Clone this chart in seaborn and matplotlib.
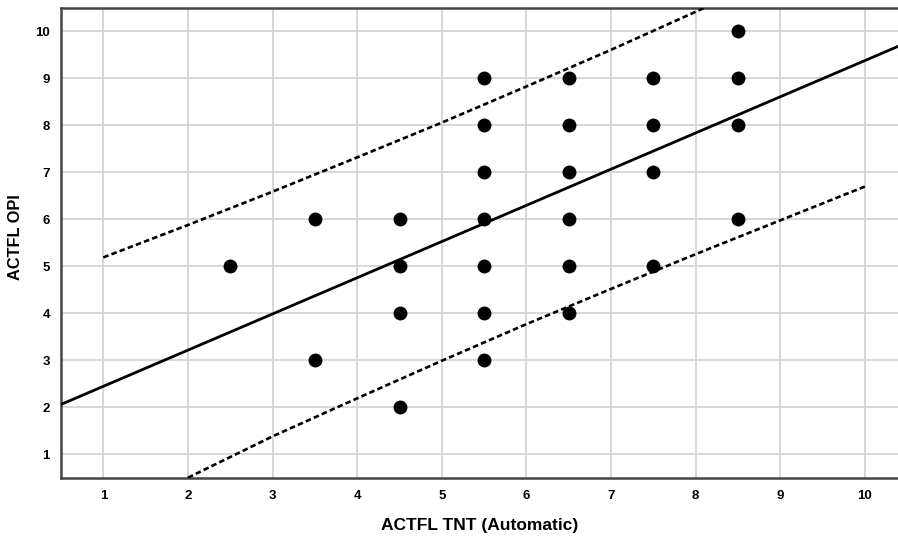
import matplotlib
matplotlib.use("Agg")
import matplotlib.pyplot as plt
import seaborn as sns
import pandas as pd

# ---- data ----
tnt = [2.5, 3.5, 3.5, 4.5, 4.5, 4.5, 4.5,
       5.5, 5.5, 5.5, 5.5, 5.5, 5.5, 5.5,
       6.5, 6.5, 6.5, 6.5, 6.5, 6.5,
       7.5, 7.5, 7.5, 7.5,
       8.5, 8.5, 8.5, 8.5]
opi = [5, 6, 3, 6, 5, 4, 2,
       9, 8, 7, 6, 5, 4, 3,
       9, 8, 7, 6, 5, 4,
       9, 8, 7, 5,
       10, 9, 8, 6]

# fitted regression line
fit_x = [0.5, 10.4]
fit_y = [2.06, 9.69]

# upper / lower prediction-interval lines
upper_x = [1, 2, 3, 4, 5, 6, 7, 8, 8.1]
upper_y = [5.19, 5.88, 6.59, 7.32, 8.06, 8.83, 9.61, 10.42, 10.50]
lower_x = [2, 3, 4, 5, 6, 7, 8, 9, 10]
lower_y = [0.50, 1.38, 2.19, 2.99, 3.77, 4.52, 5.26, 5.98, 6.70]

xticks = [1, 2, 3, 4, 5, 6, 7, 8, 9, 10]
yticks = [1, 2, 3, 4, 5, 6, 7, 8, 9, 10]

sns.set_theme(style="white")
plt.rcParams['font.family'] = ['Liberation Sans', 'DejaVu Sans']
plt.rcParams['text.color'] = 'black'
plt.rcParams['axes.labelcolor'] = 'black'

fig = plt.figure(figsize=(8.98, 5.39), dpi=100)
ax = fig.add_axes([61 / 898, 1 - 477.7 / 539, 1 - 61 / 898, (477.7 - 8) / 539])

ax.set_xlim(0.5, 10.39)
ax.set_ylim(0.5, 10.5)
ax.set_xticks(xticks)
ax.set_yticks(yticks)
ax.grid(True, color="#d4d4d4", linewidth=1.3, zorder=0)
ax.set_axisbelow(True)

pts = pd.DataFrame({"tnt": tnt, "opi": opi})
sns.scatterplot(data=pts, x="tnt", y="opi", ax=ax, color="black", s=100,
                edgecolor="black", linewidth=0, zorder=3)

sns.lineplot(x=fit_x, y=fit_y, ax=ax, color="black", linewidth=2.0,
             sort=True, zorder=4)
for xs, ys in ((upper_x, upper_y), (lower_x, lower_y)):
    l = sns.lineplot(x=xs, y=ys, ax=ax, color="black", linewidth=1.9,
                     sort=True, zorder=4)
    l.lines[-1].set_dashes((2.1, 1.2))

for side in ("left", "bottom", "top"):
    ax.spines[side].set_visible(True)
    ax.spines[side].set_color("#444444")
    ax.spines[side].set_linewidth(1.8)
ax.spines["right"].set_visible(False)

ax.tick_params(axis="both", length=0, labelsize=9.5, colors="black")
ax.tick_params(axis="x", pad=9)
ax.tick_params(axis="y", pad=8)
for lab in ax.get_xticklabels() + ax.get_yticklabels():
    lab.set_fontweight("bold")

ax.set_xlabel("ACTFL TNT (Automatic)", fontsize=12.5, fontweight="bold")
ax.set_ylabel("ACTFL OPI", fontsize=11.8, fontweight="bold")
ax.xaxis.set_label_coords(0.5, (477.7 - 518) / (477.7 - 8))
ax.yaxis.set_label_coords((23 - 61) / 837, (477.7 - 237) / (477.7 - 8))

fig.savefig("out.png", dpi=100)
